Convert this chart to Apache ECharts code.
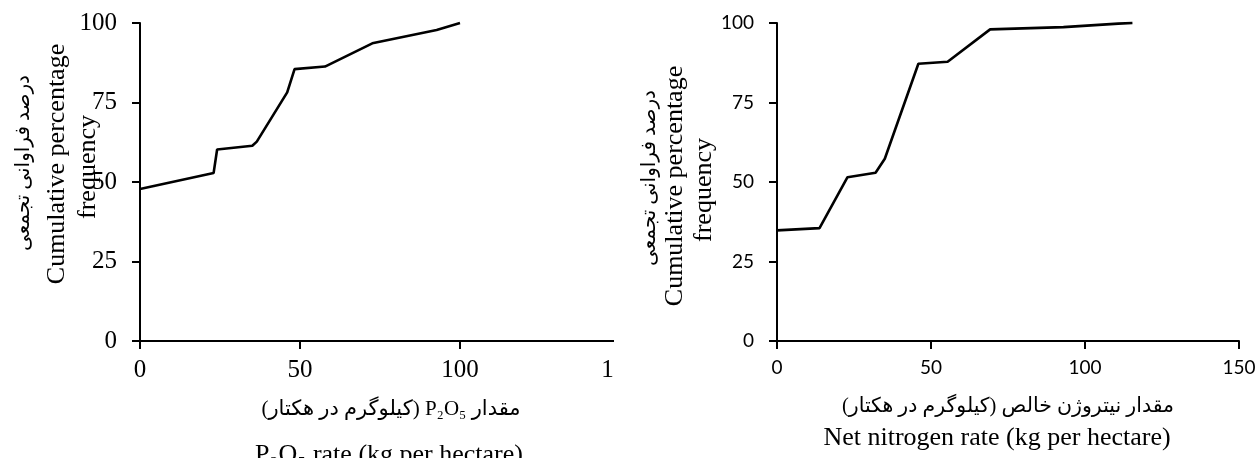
<!DOCTYPE html>
<html lang="fa">
<head>
<meta charset="utf-8" />
<title>Cumulative percentage frequency</title>
<script src="https://cdn.jsdelivr.net/npm/echarts@6/dist/echarts.min.js"></script>
<style>
  * { margin: 0; padding: 0; }
  body { width: 1260px; height: 458px; background: #fff; position: relative; overflow: hidden; }
  #left { position: absolute; left: 0; top: 0; width: 614px; height: 458px; }
  #right { position: absolute; left: 614px; top: 0; width: 646px; height: 458px; }
</style>
</head>
<body>
<div id="left"></div>
<div id="right"></div>
<script>
// P2O5 chart (left)
var pRate = [0, 23.0, 24.1, 35.1, 36.5, 46.0, 48.3, 57.8, 72.6, 92.7, 100];
var pFreq = [47.8, 52.8, 60.2, 61.4, 62.7, 78.2, 85.5, 86.3, 93.6, 97.8, 100];

// net nitrogen chart (right)
var nRate = [0, 13.8, 22.9, 32.0, 35.0, 45.9, 55.4, 69.2, 93.0, 110.8, 115.4];
var nFreq = [34.8, 35.5, 51.5, 52.9, 57.3, 87.2, 87.8, 98.0, 98.7, 99.8, 100];

var xTicks = [0, 50, 100, 150];
var yTicks = [0, 25, 50, 75, 100];

var yTitleFa = "درصد فراوانی تجمعی";
var yTitleEn = ["Cumulative percentage", "frequency"];
var pTitleFa = "\u202Bمقدار P₂O₅ (کیلوگرم در هکتار)\u202C";
var pTitleEn = "P₂O₅ rate (kg per hectare)";
var nTitleFa = "\u202Bمقدار نیتروژن خالص (کیلوگرم در هکتار)\u202C";
var nTitleEn = "Net nitrogen rate (kg per hectare)";

var SERIF = "'Liberation Serif', 'Times New Roman', serif";
var FA = "'Liberation Serif', 'DejaVu Sans', sans-serif";

function pairs(xs, ys) {
  var out = [];
  for (var i = 0; i < xs.length; i++) out.push([xs[i], ys[i]]);
  return out;
}

function txt(x, y, text, font, rot) {
  return {
    type: "text",
    x: x,
    y: y,
    rotation: rot ? Math.PI / 2 : 0,
    style: {
      text: text,
      font: font,
      fill: "#000",
      textAlign: "center",
      textVerticalAlign: "middle"
    }
  };
}

function build(cfg) {
  var axisLine = { show: true, onZero: false, lineStyle: { color: "#000", width: 2 } };
  var axisTick = { show: true, inside: false, length: 8, lineStyle: { color: "#000", width: 2 } };
  return {
    animation: false,
    grid: {
      left: cfg.gridLeft, top: 23, width: cfg.gridWidth, height: 318,
      containLabel: false,
      outerBoundsMode: "none"
    },
    xAxis: {
      type: "value",
      min: xTicks[0],
      max: xTicks[xTicks.length - 1],
      interval: 50,
      axisLine: axisLine,
      axisTick: axisTick,
      splitLine: { show: false },
      axisLabel: {
        color: "#000",
        fontFamily: cfg.tickFont,
        fontSize: cfg.tickSize,
        margin: 17,
        showMaxLabel: true,
        showMinLabel: true
      }
    },
    yAxis: {
      type: "value",
      min: yTicks[0],
      max: yTicks[yTicks.length - 1],
      interval: 25,
      axisLine: axisLine,
      axisTick: axisTick,
      splitLine: { show: false },
      axisLabel: {
        color: "#000",
        fontFamily: cfg.tickFont,
        fontSize: cfg.tickSize,
        margin: 23
      }
    },
    series: [{
      type: "line",
      data: pairs(cfg.xs, cfg.ys),
      showSymbol: false,
      symbol: "none",
      clip: false,
      lineStyle: { color: "#000", width: 2.6 },
      z: 5
    }],
    graphic: cfg.texts
  };
}

var left = echarts.init(document.getElementById("left"), null, { renderer: "canvas" });
left.setOption(build({
  gridLeft: 140,
  gridWidth: 480,
  tickFont: SERIF,
  tickSize: 25,
  xs: pRate,
  ys: pFreq,
  texts: [
    txt(24, 163, yTitleFa, "20px " + FA, true),
    txt(57, 164, yTitleEn[0], "26px " + SERIF, true),
    txt(88, 167, yTitleEn[1], "26px " + SERIF, true),
    txt(391, 409, pTitleFa, "21px " + FA, false),
    txt(389, 455, pTitleEn, "26px " + SERIF, false)
  ]
}));

var right = echarts.init(document.getElementById("right"), null, { renderer: "canvas" });
right.setOption(build({
  gridLeft: 163,
  gridWidth: 462,
  tickFont: "Lato, 'Open Sans', sans-serif",
  tickSize: 19,
  xs: nRate,
  ys: nFreq,
  texts: [
    txt(36, 178, yTitleFa, "20px " + FA, true),
    txt(61, 186, yTitleEn[0], "26px " + SERIF, true),
    txt(90, 190, yTitleEn[1], "26px " + SERIF, true),
    txt(394, 407, nTitleFa, "20.5px " + FA, false),
    txt(383, 438, nTitleEn, "26px " + SERIF, false)
  ]
}));
</script>
</body>
</html>
